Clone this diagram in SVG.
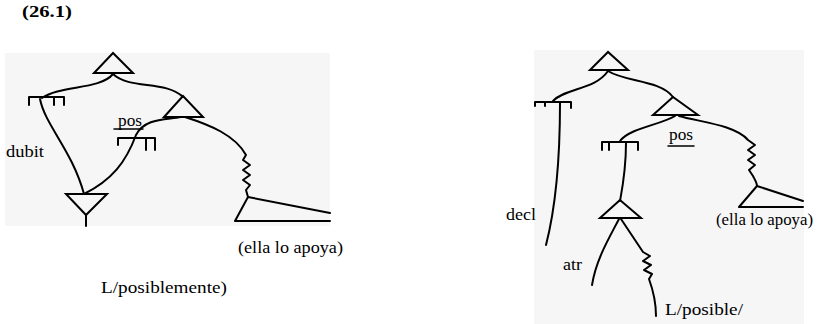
<svg xmlns="http://www.w3.org/2000/svg" width="829" height="324" viewBox="0 0 829 324">
<style>
.ln{fill:none;stroke:#000;stroke-width:2;stroke-linecap:round;stroke-linejoin:round}
.tri{fill:none;stroke:#000;stroke-width:2;stroke-linejoin:miter}
.t{font-family:"Liberation Serif","Times New Roman",serif;font-size:17px;fill:#000}
.bg{fill:#f6f6f6}
</style>
<rect width="829" height="324" fill="#fff"/>
<rect class="bg" x="5" y="53" width="325" height="173"/>
<rect class="bg" x="534" y="50" width="270" height="274"/>
<text class="t" x="22" y="17" style="font-weight:bold;font-size:16px" textLength="50" lengthAdjust="spacingAndGlyphs">(26.1)</text>

<g id="connectors">
<!-- left diagram -->
<path class="ln" d="M113,74 C100,90 60,85 42,98"/>
<path class="ln" d="M113,74 C130,90 165,80 183,97"/>
<path class="ln" d="M40,99 C45,125 72,150 84,194"/>
<path class="ln" d="M181,117 C165,120 145,118 136,135 C126,162 112,180 84,194"/>
<path class="ln" d="M185,117 C210,125 235,135 246,155 L243,160 L250,165 L243,170 L250,175 L243,180 L250,185 L246,190 L248,197"/>
<path class="ln" d="M86,215 L86,226"/>
<!-- right diagram -->
<path class="ln" d="M608,71 C595,90 565,88 553,101"/>
<path class="ln" d="M608,71 C625,82 660,80 673,97"/>
<path class="ln" d="M560,103 C560,160 555,210 546,245"/>
<path class="ln" d="M675,116 C660,125 630,128 620,141"/>
<path class="ln" d="M626,143 C626,170 622,190 620,201"/>
<path class="ln" d="M679,116 C700,122 735,125 748,140 L755,145 L748,150 L755,155 L748,160 L755,165 L749,170 L753,176 C755,180 757,183 757,186"/>
<path class="ln" d="M619,219 C608,240 596,260 592,285"/>
<path class="ln" d="M621,219 L643,252 L650,256 L643,261 L651,265 L644,270 L652,274 L649,279 C653,290 656,300 656,316"/>
</g>

<g id="n-top-left"><polygon class="tri" points="113,53 94,73 133,73"/></g>
<g id="n-tbar-left"><path class="ln" d="M29,105 L29,97 L64,97 L64,105 M54,97 L54,105"/></g>
<g id="n-tri2-left"><polygon class="tri" points="183,96 164,117 203,117"/></g>
<g id="n-pos-left"><text class="t" x="118" y="126" textLength="24" lengthAdjust="spacingAndGlyphs">pos</text><path class="ln" d="M114,129 L143,129" style="stroke-width:1.5"/></g>
<g id="n-tbar2-left"><path class="ln" d="M118,145 L118,138 L155,138 L155,150 M146,138 L146,150"/></g>
<g id="n-bottom-left"><polygon class="tri" points="66,194 107,194 86,215"/></g>
<g id="n-dubit"><text class="t" x="6" y="157" textLength="38" lengthAdjust="spacingAndGlyphs">dubit</text></g>
<g id="n-ella-left"><path class="ln" d="M330,213 L248,197 L235,221 L330,221"/><text class="t" x="238" y="253" textLength="105" lengthAdjust="spacingAndGlyphs">(ella lo apoya)</text></g>
<g id="n-lposiblemente"><text class="t" x="101" y="293" textLength="126" lengthAdjust="spacingAndGlyphs">L/posiblemente)</text></g>

<g id="n-top-right"><polygon class="tri" points="608,52 590,70 628,70"/></g>
<g id="n-tbar-right"><path class="ln" d="M535,106 L535,102 L571,102 L571,108 M545,102 L545,106"/></g>
<g id="n-decl"><text class="t" x="506" y="220" textLength="30" lengthAdjust="spacingAndGlyphs">decl</text></g>
<g id="n-tri2-right"><polygon class="tri" points="673,97 653,115 698,115"/></g>
<g id="n-pos-right"><text class="t" x="669" y="140" textLength="24" lengthAdjust="spacingAndGlyphs">pos</text><path class="ln" d="M668,146 L694,146" style="stroke-width:1.5"/></g>
<g id="n-tbar2-right"><path class="ln" d="M602,150 L602,142 L638,142 L638,150 M609,142 L609,150"/></g>
<g id="n-ella-right"><path class="ln" d="M803,201 L757,186 L739,207 L803,207"/><text class="t" x="716" y="225" textLength="97" lengthAdjust="spacingAndGlyphs">(ella lo apoya)</text></g>
<g id="n-tri3-right"><polygon class="tri" points="620,200 600,218 641,218"/></g>
<g id="n-atr"><text class="t" x="563" y="270" textLength="19" lengthAdjust="spacingAndGlyphs">atr</text></g>
<g id="n-lposible"><text class="t" x="665" y="315" textLength="78" lengthAdjust="spacingAndGlyphs">L/posible/</text></g>
</svg>
